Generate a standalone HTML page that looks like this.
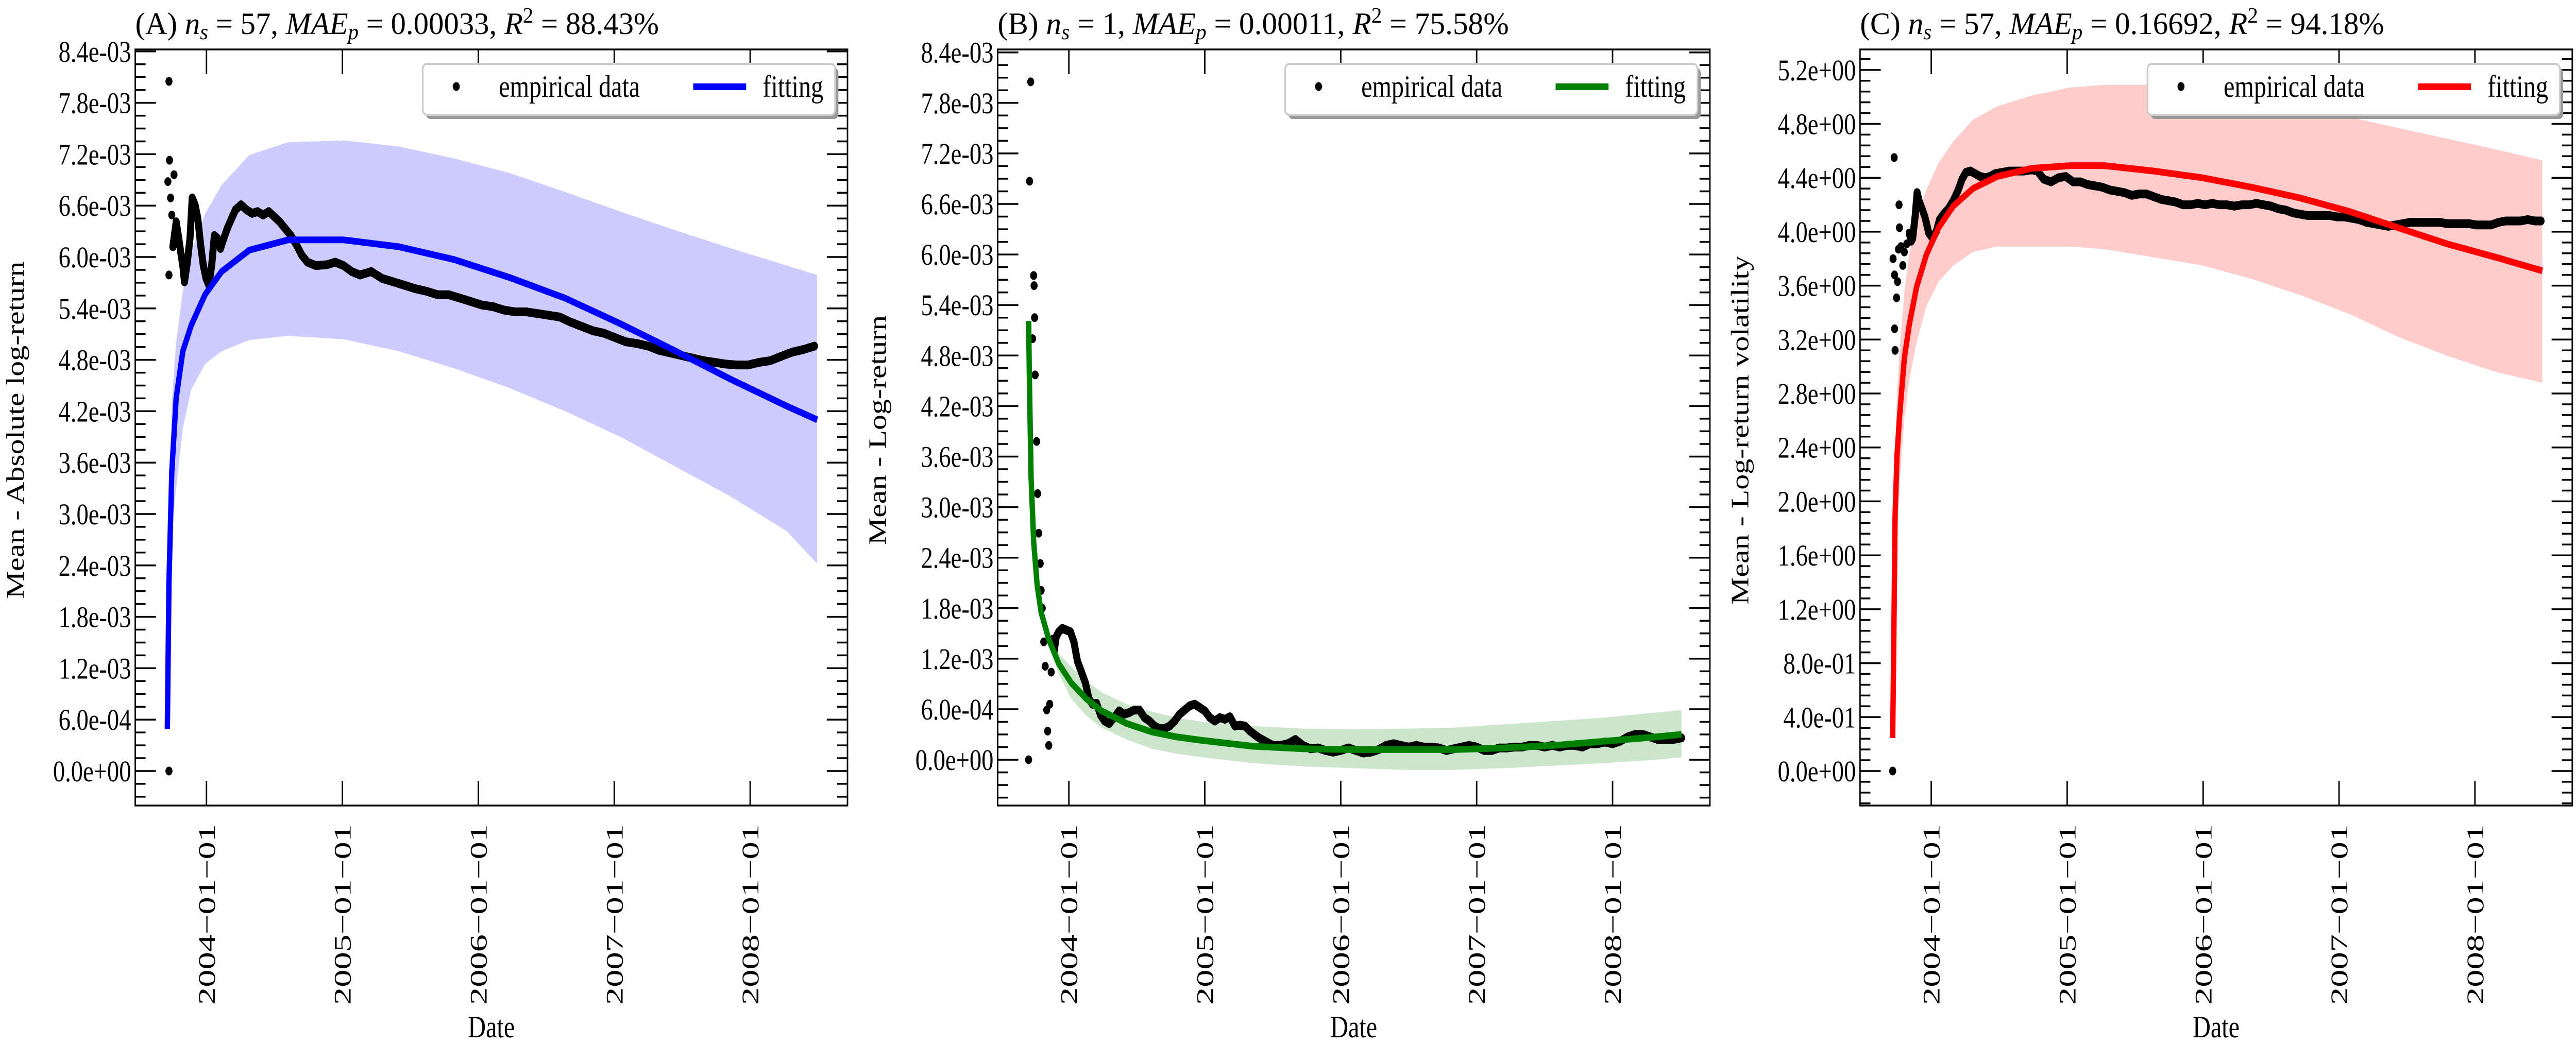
<!DOCTYPE html>
<html><head><meta charset="utf-8"><style>
html,body{margin:0;padding:0;background:#fff;width:100vw;height:100vh;overflow:hidden;}
svg{display:block;font-family:"Liberation Serif",serif;width:100vw;height:100vh;}
</style></head><body>
<svg id="fig" viewBox="0 0 6228 2027" preserveAspectRatio="none" xmlns="http://www.w3.org/2000/svg"></svg>
<script>
// ---------- shared axis ----------
const xTickYears = [2004, 2005, 2006, 2007, 2008];
const xTickLabels = ["2004\u221201\u221201","2005\u221201\u221201","2006\u221201\u221201","2007\u221201\u221201","2008\u221201\u221201"];

// ---------- Panel A (values in units of 1e-3) ----------
const aEmpYears = [2003.724,2003.724,2003.728,2003.716,2003.761,2003.736,2003.745,2003.724,2003.753,2003.777,2003.793,2003.810,2003.826,2003.838,2003.859,2003.879,2003.895,2003.916,2003.936,2003.957,2003.977,2003.997,2004.018,2004.038,2004.058,2004.079,2004.103,2004.128,2004.152,2004.185,2004.213,2004.254,2004.295,2004.336,2004.376,2004.417,2004.458,2004.499,2004.539,2004.580,2004.621,2004.662,2004.702,2004.743,2004.804,2004.886,2004.947,2005.008,2005.069,2005.130,2005.212,2005.293,2005.375,2005.456,2005.538,2005.619,2005.701,2005.783,2005.864,2005.946,2006.027,2006.109,2006.190,2006.272,2006.353,2006.435,2006.516,2006.598,2006.679,2006.761,2006.842,2006.924,2007.005,2007.087,2007.168,2007.250,2007.331,2007.413,2007.494,2007.576,2007.657,2007.739,2007.821,2007.902,2007.984,2008.065,2008.147,2008.228,2008.310,2008.391,2008.473];
const aEmpValues = [0,8.05,7.13,6.88,6.96,6.69,6.49,5.79,6.12,6.41,6.25,6.06,5.90,5.71,5.94,6.22,6.69,6.61,6.45,6.14,5.90,5.75,5.67,5.90,6.25,6.22,6.10,6.22,6.33,6.45,6.55,6.61,6.55,6.51,6.53,6.49,6.53,6.47,6.41,6.33,6.25,6.14,6.02,5.94,5.90,5.91,5.94,5.90,5.83,5.79,5.83,5.75,5.71,5.67,5.63,5.60,5.56,5.56,5.52,5.48,5.44,5.42,5.38,5.36,5.36,5.34,5.32,5.30,5.24,5.19,5.14,5.11,5.06,5.01,4.99,4.96,4.91,4.88,4.85,4.82,4.79,4.77,4.75,4.74,4.74,4.77,4.79,4.84,4.89,4.92,4.96];
const aFitYears = [2003.712,2003.724,2003.745,2003.777,2003.826,2003.887,2003.989,2004.111,2004.315,2004.601,2005.008,2005.416,2005.823,2006.231,2006.638,2007.046,2007.454,2007.861,2008.269,2008.493];
const aFitValues = [0.49,2.2,3.5,4.35,4.9,5.2,5.56,5.83,6.08,6.2,6.2,6.12,5.97,5.76,5.52,5.22,4.9,4.57,4.26,4.1];
const aUpper = [0.49,2.6,4.3,5.0,5.6,6.05,6.5,6.84,7.19,7.34,7.36,7.29,7.15,6.98,6.76,6.53,6.31,6.1,5.9,5.79];
const aLower = [0.49,1.8,2.8,3.3,4.0,4.45,4.75,4.9,5.03,5.08,5.04,4.9,4.7,4.47,4.2,3.9,3.55,3.2,2.8,2.42];
const aYTicks = [0,0.6,1.2,1.8,2.4,3.0,3.6,4.2,4.8,5.4,6.0,6.6,7.2,7.8,8.4];
const aYTickLabels = ["0.0e+00","6.0e-04","1.2e-03","1.8e-03","2.4e-03","3.0e-03","3.6e-03","4.2e-03","4.8e-03","5.4e-03","6.0e-03","6.6e-03","7.2e-03","7.8e-03","8.4e-03"];

// ---------- Panel B (values in units of 1e-3) ----------
const bEmpYears = [2003.704,2003.719,2003.711,2003.741,2003.744,2003.748,2003.733,2003.752,2003.763,2003.770,2003.778,2003.789,2003.796,2003.804,2003.815,2003.826,2003.837,2003.844,2003.852,2003.859,2003.870,2003.881,2003.893,2003.907,2003.926,2003.952,2003.981,2004.011,2004.037,2004.063,2004.093,2004.122,2004.148,2004.174,2004.204,2004.233,2004.263,2004.296,2004.333,2004.370,2004.407,2004.444,2004.481,2004.519,2004.556,2004.593,2004.630,2004.667,2004.704,2004.741,2004.778,2004.815,2004.852,2004.889,2004.926,2004.963,2005.000,2005.037,2005.074,2005.111,2005.148,2005.185,2005.222,2005.259,2005.296,2005.333,2005.389,2005.444,2005.500,2005.556,2005.611,2005.667,2005.722,2005.778,2005.833,2005.889,2005.944,2006.000,2006.056,2006.111,2006.167,2006.222,2006.278,2006.333,2006.389,2006.444,2006.500,2006.556,2006.611,2006.667,2006.722,2006.778,2006.833,2006.889,2006.944,2007.000,2007.056,2007.111,2007.167,2007.222,2007.278,2007.333,2007.389,2007.444,2007.500,2007.556,2007.611,2007.667,2007.722,2007.778,2007.833,2007.889,2007.944,2008.000,2008.056,2008.111,2008.167,2008.222,2008.278,2008.333,2008.389,2008.444,2008.507];
const bEmpValues = [0,8.05,6.87,5.75,5.63,5.25,5.0,4.57,3.78,3.16,2.69,2.33,2.01,1.8,1.4,1.11,0.59,0.34,0.17,0.66,1.04,1.43,1.3,1.46,1.52,1.56,1.54,1.52,1.4,1.17,1.04,0.91,0.72,0.66,0.67,0.53,0.46,0.43,0.5,0.58,0.54,0.56,0.59,0.59,0.5,0.46,0.4,0.37,0.37,0.4,0.46,0.54,0.59,0.64,0.66,0.62,0.58,0.5,0.46,0.5,0.48,0.51,0.4,0.41,0.4,0.34,0.27,0.22,0.17,0.17,0.19,0.24,0.17,0.13,0.14,0.11,0.09,0.11,0.14,0.11,0.08,0.09,0.12,0.17,0.19,0.17,0.15,0.17,0.15,0.15,0.14,0.11,0.13,0.15,0.17,0.15,0.11,0.11,0.14,0.14,0.15,0.15,0.17,0.17,0.15,0.17,0.15,0.17,0.17,0.15,0.19,0.19,0.21,0.19,0.22,0.27,0.3,0.3,0.27,0.24,0.24,0.24,0.26];
const bFitYears = [2003.704,2003.711,2003.722,2003.741,2003.767,2003.796,2003.852,2003.926,2004.019,2004.130,2004.241,2004.426,2004.611,2004.796,2004.981,2005.352,2005.722,2006.093,2006.463,2006.833,2007.204,2007.574,2007.944,2008.315,2008.507];
const bFitValues = [5.21,4.39,3.36,2.59,2.07,1.75,1.43,1.14,0.91,0.72,0.58,0.43,0.33,0.27,0.23,0.16,0.13,0.12,0.12,0.12,0.14,0.17,0.22,0.27,0.3];
const bUpper = [5.21,4.45,3.42,2.66,2.15,1.84,1.52,1.26,1.1,0.93,0.8,0.66,0.57,0.5,0.45,0.4,0.37,0.36,0.37,0.38,0.42,0.46,0.5,0.56,0.59];
const bLower = [5.21,4.33,3.3,2.52,1.99,1.66,1.35,1.02,0.72,0.52,0.38,0.24,0.13,0.07,0.03,-0.04,-0.08,-0.1,-0.12,-0.12,-0.1,-0.07,-0.04,0.0,0.03];
const bYTicks = aYTicks;
const bYTickLabels = aYTickLabels;

// ---------- Panel C ----------
const cEmpYears = [2003.716,2003.727,2003.719,2003.730,2003.745,2003.730,2003.734,2003.752,2003.763,2003.766,2003.759,2003.777,2003.791,2003.802,2003.820,2003.838,2003.853,2003.863,2003.881,2003.896,2003.910,2003.932,2003.953,2003.982,2004.011,2004.040,2004.061,2004.090,2004.126,2004.162,2004.198,2004.227,2004.255,2004.288,2004.324,2004.360,2004.396,2004.432,2004.468,2004.522,2004.576,2004.629,2004.683,2004.737,2004.781,2004.827,2004.881,2004.935,2004.989,2005.043,2005.097,2005.151,2005.205,2005.259,2005.313,2005.367,2005.421,2005.475,2005.529,2005.583,2005.637,2005.691,2005.745,2005.799,2005.853,2005.906,2005.960,2006.014,2006.068,2006.122,2006.176,2006.230,2006.284,2006.338,2006.392,2006.446,2006.500,2006.554,2006.608,2006.662,2006.716,2006.770,2006.824,2006.878,2006.932,2006.986,2007.040,2007.094,2007.147,2007.201,2007.255,2007.309,2007.363,2007.417,2007.471,2007.525,2007.579,2007.633,2007.687,2007.741,2007.795,2007.849,2007.903,2007.957,2008.011,2008.065,2008.119,2008.173,2008.227,2008.281,2008.335,2008.388,2008.442,2008.486];
const cEmpValues = [0,4.55,3.80,3.68,3.51,3.28,3.12,3.63,4.2,4.03,3.87,3.89,3.75,3.85,3.91,3.99,3.93,3.95,4.11,4.29,4.23,4.17,4.11,3.99,3.95,4.01,4.09,4.13,4.17,4.23,4.31,4.39,4.44,4.45,4.43,4.41,4.40,4.41,4.43,4.44,4.45,4.45,4.45,4.46,4.45,4.39,4.37,4.40,4.41,4.37,4.37,4.35,4.34,4.33,4.31,4.30,4.29,4.27,4.28,4.28,4.26,4.24,4.23,4.22,4.20,4.20,4.21,4.20,4.21,4.20,4.20,4.19,4.20,4.20,4.21,4.20,4.19,4.17,4.16,4.14,4.13,4.12,4.12,4.12,4.12,4.11,4.11,4.10,4.09,4.07,4.06,4.05,4.04,4.05,4.06,4.07,4.07,4.07,4.07,4.07,4.06,4.06,4.06,4.06,4.05,4.05,4.05,4.07,4.08,4.08,4.08,4.09,4.08,4.08];
const cFitYears = [2003.716,2003.723,2003.734,2003.748,2003.766,2003.802,2003.838,2003.892,2003.964,2004.054,2004.162,2004.306,2004.486,2004.737,2005.025,2005.277,2005.637,2005.996,2006.356,2006.716,2007.076,2007.435,2007.795,2008.155,2008.496];
const cFitValues = [0.245,0.84,1.9,2.34,2.62,3.06,3.31,3.59,3.83,4.03,4.19,4.32,4.41,4.47,4.49,4.49,4.45,4.40,4.33,4.25,4.15,4.03,3.91,3.81,3.71];
const cUpper = [0.245,1.2,2.3,2.8,3.1,3.55,3.83,4.11,4.31,4.51,4.67,4.83,4.93,5.01,5.07,5.09,5.09,5.05,4.99,4.91,4.85,4.77,4.69,4.61,4.53];
const cLower = [0.245,0.49,1.3,1.7,2.1,2.62,2.9,3.18,3.45,3.63,3.75,3.85,3.89,3.89,3.89,3.87,3.81,3.75,3.65,3.53,3.39,3.22,3.08,2.96,2.88];
const cYTicks = [0,0.4,0.8,1.2,1.6,2.0,2.4,2.8,3.2,3.6,4.0,4.4,4.8,5.2];
const cYTickLabels = ["0.0e+00","4.0e-01","8.0e-01","1.2e+00","1.6e+00","2.0e+00","2.4e+00","2.8e+00","3.2e+00","3.6e+00","4.0e+00","4.4e+00","4.8e+00","5.2e+00"];

// ---------- drawing ----------
const NS = "http://www.w3.org/2000/svg";
const svg = document.getElementById("fig");
function mk(tag, attrs, parent) {
  const e = document.createElementNS(NS, tag);
  for (const k in attrs) e.setAttribute(k, attrs[k]);
  (parent || svg).appendChild(e);
  return e;
}
const TOP = 96, BOTTOM = 1564, WIDTH = 1722;
const X0 = 2003.476, X1 = 2008.716;

function drawPanel(p) {
  const g = mk("g", {});
  
  
  const L = p.left, R = p.left + WIDTH;
  const xs = yr => L + (yr - X0) / (X1 - X0) * WIDTH;
  const ys = v => BOTTOM - (v - p.yMin) / (p.yMax - p.yMin) * (BOTTOM - TOP);

  let d = "";
  p.fitX.forEach((yr, i) => { d += (i ? "L" : "M") + xs(yr).toFixed(1) + "," + ys(p.upper[i]).toFixed(1); });
  for (let i = p.fitX.length - 1; i >= 0; i--) d += "L" + xs(p.fitX[i]).toFixed(1) + "," + ys(p.lower[i]).toFixed(1);
  const band = mk("path", { d: d + "Z", fill: p.bandColor }, g);
  
  

  const tg = mk("g", {}, g);
  
  
  let pd = "";
  for (let i = p.lineStart; i < p.empX.length; i++) pd += (i > p.lineStart ? "L" : "M") + xs(p.empX[i]).toFixed(1) + "," + ys(p.empY[i]).toFixed(1);
  mk("path", { d: pd, fill: "none", stroke: "#000", "stroke-width": 17, "stroke-linejoin": "round", "stroke-linecap": "round" }, tg);
  p.empX.forEach((yr, i) => {
    const c = mk("circle", { cx: xs(yr).toFixed(1), cy: ys(p.empY[i]).toFixed(1), r: 8.5, fill: "#000" }, tg);
    
    
  });

  let fd = "";
  p.fitX.forEach((yr, i) => { fd += (i ? "L" : "M") + xs(yr).toFixed(1) + "," + ys(p.fitY[i]).toFixed(1); });
  const fl = mk("path", { d: fd, fill: "none", stroke: p.color, "stroke-width": 13, "stroke-linejoin": "round" }, g);
  
  

  const fr = mk("rect", { x: L, y: TOP, width: WIDTH, height: BOTTOM - TOP, fill: "none", stroke: "#000", "stroke-width": 3.5 }, g);
  
  

  const step = p.yTicks[1] - p.yTicks[0];
  const minor = step / p.minorDiv;
  let ticks = "";
  for (let v = Math.ceil(p.yMin / minor) * minor; v <= p.yMax + 1e-9; v += minor) {
    const y = ys(v);
    const isMajor = Math.abs(Math.round(v / step) * step - v) < 1e-6;
    const len = isMajor ? 50 : 25;
    ticks += `M${L},${y.toFixed(1)}h${len}M${R},${y.toFixed(1)}h${-len}`;
  }
  xTickYears.forEach(yr => { const x = xs(yr); ticks += `M${x.toFixed(1)},${BOTTOM}v-48M${x.toFixed(1)},${TOP}v48`; });
  const tk = mk("path", { d: ticks, stroke: "#000", "stroke-width": 3.5, fill: "none" }, g);
  
  

  p.yTicks.forEach((v, i) => {
    const t = mk("text", { x: L - 10, y: (ys(v) + 20).toFixed(1), "text-anchor": "end", "font-size": 58 }, g);
    t.textContent = p.yLabels[i];
    
    
  });
  xTickYears.forEach((yr, i) => {
    const x = xs(yr);
    const t = mk("text", { x: 0, y: 0, "text-anchor": "end", "font-size": 58, textLength: 351, lengthAdjust: "spacingAndGlyphs",
      transform: `translate(${(x + 20).toFixed(1)},1600) rotate(-90)` }, g);
    t.textContent = xTickLabels[i];
    
    
  });
  const xl = mk("text", { x: L + WIDTH / 2, y: 2014, "text-anchor": "middle", "font-size": 60 }, g);
  xl.textContent = "Date";
  
  
  const yl = mk("text", { x: 0, y: 0, "text-anchor": "middle", "font-size": 60, transform: `translate(${L - 270},${p.yLabelY}) rotate(-90)` }, g);
  yl.textContent = p.yTitle;
  
  

  const tt = mk("text", { x: L, y: 66, "font-size": 60, textLength: p.titleLen, lengthAdjust: "spacingAndGlyphs" }, g);
  
  
  tt.innerHTML = `(${p.letter}) <tspan font-style="italic">n</tspan><tspan font-style="italic" font-size="42" dy="10">s</tspan><tspan dy="-10"> = ${p.ns}, </tspan><tspan font-style="italic">MAE</tspan><tspan font-style="italic" font-size="42" dy="10">p</tspan><tspan dy="-10"> = ${p.mae}, </tspan><tspan font-style="italic">R</tspan><tspan font-size="42" dy="-22">2</tspan><tspan dy="22"> = ${p.r2}%</tspan>`;

  const lg = mk("g", {}, g);
  
  
  const bx = R - 30 - 997, by = 124;
  mk("rect", { x: bx + 8, y: by + 8, width: 997, height: 99, rx: 10, fill: "#999" }, lg);
  mk("rect", { x: bx, y: by, width: 997, height: 99, rx: 10, fill: "#fff", stroke: "#ccc", "stroke-width": 4 }, lg);
  const e1 = mk("g", {}, lg);
  
  
  mk("circle", { cx: bx + 81, cy: by + 44, r: 8.5, fill: "#000" }, e1);
  const t1 = mk("text", { x: bx + 184, y: by + 64, "font-size": 60 }, e1);
  t1.textContent = "empirical data";
  const e2 = mk("g", {}, lg);
  
  
  mk("rect", { x: bx + 654, y: by + 38, width: 128, height: 13, fill: p.color }, e2);
  const t2 = mk("text", { x: bx + 822, y: by + 64, "font-size": 60 }, e2);
  t2.textContent = "fitting";
}

drawPanel({ key: "a", letter: "A", ns: 57, mae: "0.00033", r2: "88.43", titleLen: 1266, left: 327, yMin: -0.403, yMax: 8.423,
  empX: aEmpYears, empY: aEmpValues, lineStart: 8, fitX: aFitYears, fitY: aFitValues, upper: aUpper, lower: aLower,
  yTicks: aYTicks, yLabels: aYTickLabels, minorDiv: 4, color: "#0000ff", bandColor: "#ccccff",
  yTitle: "Mean - Absolute log-return", yLabelY: 835 });
drawPanel({ key: "b", letter: "B", ns: 1, mae: "0.00011", r2: "75.58", titleLen: 1236, left: 2412, yMin: -0.544, yMax: 8.435,
  empX: bEmpYears, empY: bEmpValues, lineStart: 22, fitX: bFitYears, fitY: bFitValues, upper: bUpper, lower: bLower,
  yTicks: bYTicks, yLabels: bYTickLabels, minorDiv: 4, color: "#008000", bandColor: "#cce6cc",
  yTitle: "Mean - Log-return", yLabelY: 835 });
drawPanel({ key: "c", letter: "C", ns: 57, mae: "0.16692", r2: "94.18", titleLen: 1267, left: 4497, yMin: -0.256, yMax: 5.352,
  empX: cEmpYears, empY: cEmpValues, lineStart: 15, fitX: cFitYears, fitY: cFitValues, upper: cUpper, lower: cLower,
  yTicks: cYTicks, yLabels: cYTickLabels, minorDiv: 5, color: "#ff0000", bandColor: "#ffcccc",
  yTitle: "Mean - Log-return volatility", yLabelY: 835 });
</script>
</body></html>
